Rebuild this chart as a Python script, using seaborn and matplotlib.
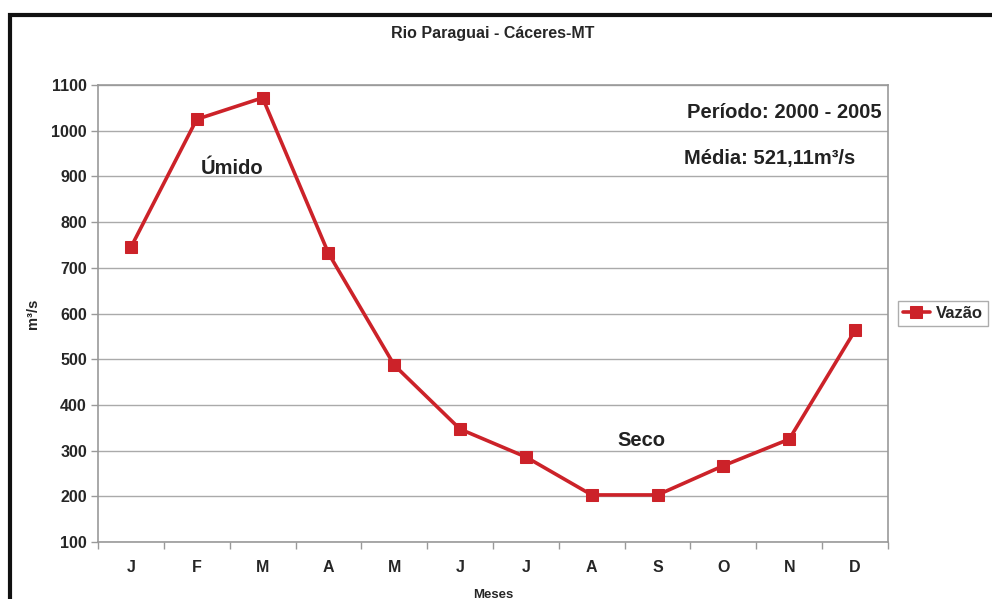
import matplotlib
matplotlib.use("Agg")
import matplotlib.pyplot as plt
import seaborn as sns
import pandas as pd
from matplotlib.patches import Rectangle

meses = ["J", "F", "M", "A", "M", "J", "J", "A", "S", "O", "N", "D"]
vazao = [745, 1025, 1072, 732, 487, 347, 286, 203, 203, 267, 325, 563]
yticks = [100, 200, 300, 400, 500, 600, 700, 800, 900, 1000, 1100]

sns.set_theme(style="white")
plt.rcParams['font.family'] = ['Liberation Sans', 'DejaVu Sans']

df = pd.DataFrame({"pos": range(len(meses)), "vazao": vazao})

fig = plt.figure(figsize=(9.92, 5.99), dpi=100)
ax = fig.add_axes([98/992, 1-542/599, (888-98)/992, (542-85)/599])

red = "#CC2229"
sns.lineplot(data=df, x="pos", y="vazao", ax=ax, color=red, linewidth=2.6,
             marker="s", markersize=8, markeredgecolor=red, label="Vazão")

ax.set_xlim(-0.5, 11.5)
ax.set_ylim(100, 1100)
ax.set_yticks(yticks)
ax.set_yticklabels([str(v) for v in yticks], fontsize=11.5, fontweight="bold")
ax.set_xticks(range(len(meses)))
ax.set_xticklabels(meses, fontsize=11.5, fontweight="bold")
ax.tick_params(axis="x", length=0, pad=13)
ax.set_xticks([i + 0.5 for i in range(-1, 12)], minor=True)
ax.tick_params(axis="x", which="minor", length=5, color="#999999", width=1, direction="out")
ax.tick_params(axis="y", length=5, color="#999999", width=1, direction="out", pad=3)
ax.yaxis.set_ticks_position("left")
ax.xaxis.set_ticks_position("bottom")

ax.grid(axis="y", color="#aaaaaa", linewidth=1)
ax.set_axisbelow(True)
for s in ["left", "bottom", "right", "top"]:
    ax.spines[s].set_color("#999999")
    ax.spines[s].set_linewidth(1.2)

ax.set_xlabel("Meses", fontsize=9.5, fontweight="bold", labelpad=10)
ax.set_ylabel("m³/s", fontsize=10.5, fontweight="bold", labelpad=8)
ax.set_title("Rio Paraguai - Cáceres-MT", fontsize=11.5, fontweight="bold", pad=34)

ax.text(1.53, 917, "Úmido", fontsize=14.5, fontweight="bold", ha="center", va="center", color="#222222")
ax.text(7.75, 322, "Seco", fontsize=14.5, fontweight="bold", ha="center", va="center", color="#222222")
ax.text(11.4, 1040, "Período: 2000 - 2005", fontsize=14.5, fontweight="bold", ha="right", va="center", color="#222222")
ax.text(8.4, 940, "Média: 521,11m³/s", fontsize=14.5, fontweight="bold", ha="left", va="center", color="#222222")

leg = ax.legend(loc="center left", bbox_to_anchor=(1.0127, 0.5), frameon=True,
                prop={"weight": "bold", "size": 12},
                handlelength=1.6, handletextpad=0.35, borderpad=0.3,
                borderaxespad=0, fancybox=False, edgecolor="#999999")
leg.get_frame().set_linewidth(1)

fig.patches.append(Rectangle((9.5/992, -0.05), 1.1, 1 - 14.5/599 + 0.05,
                             transform=fig.transFigure, fill=False,
                             edgecolor="#111111", linewidth=3, zorder=10))

fig.savefig("out.png", dpi=100)
